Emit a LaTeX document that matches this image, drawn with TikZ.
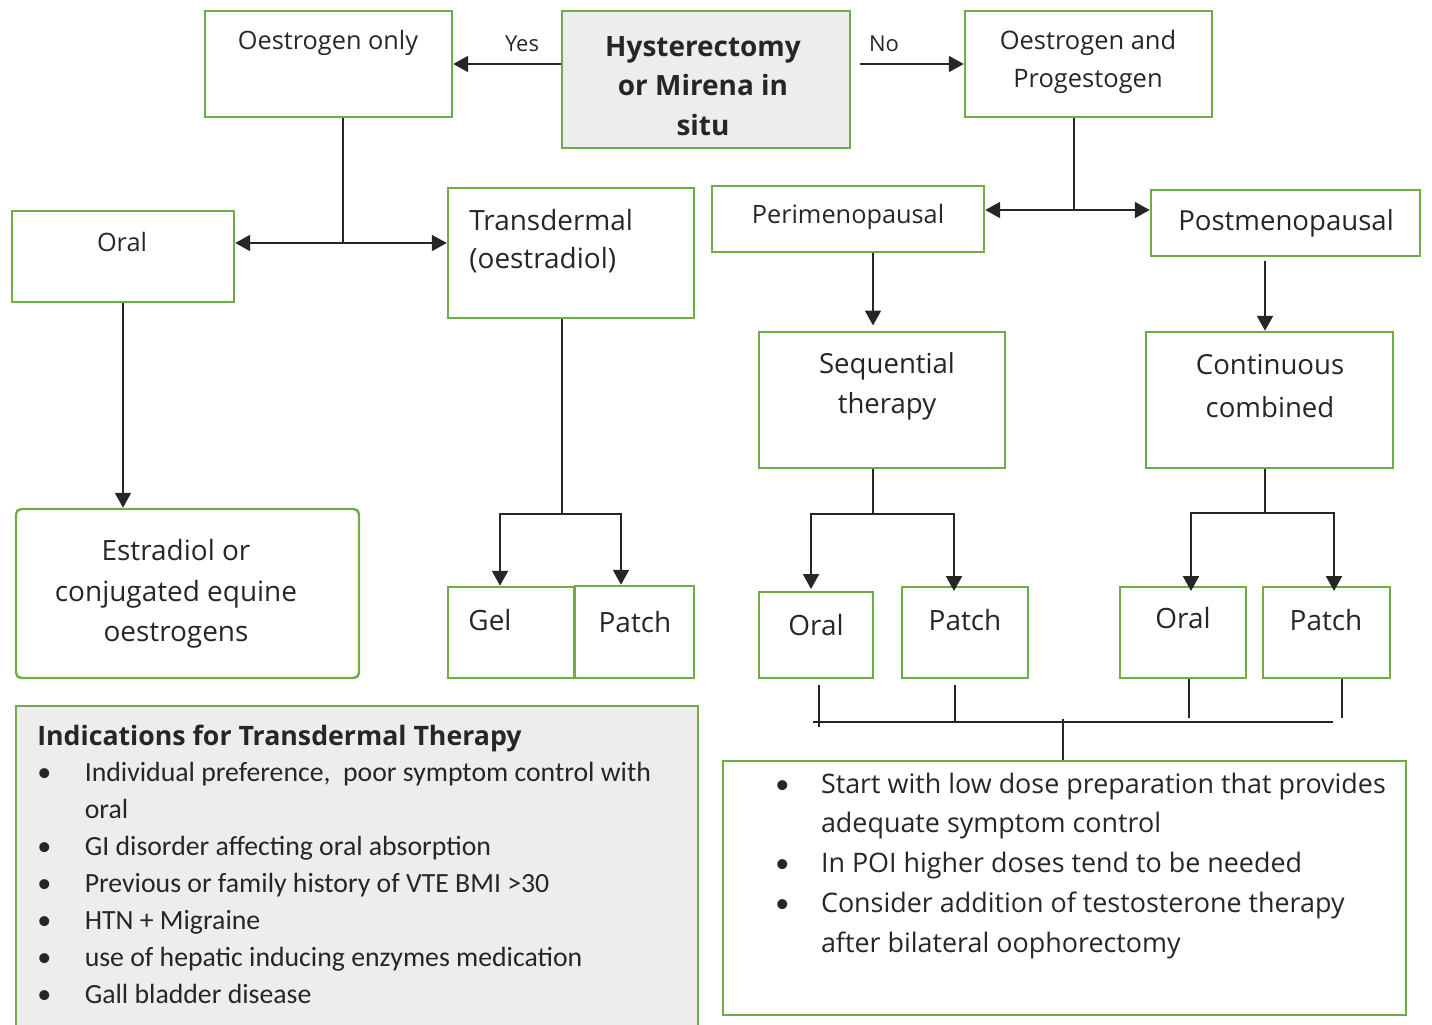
\documentclass[tikz,border=0pt]{standalone}
\usepackage{fontspec}
\setmainfont{Open Sans}
\newfontfamily\calfont{Carlito}
\newfontfamily\opensans{Open Sans}
\usetikzlibrary{arrows.meta,fit,positioning}
\definecolor{boxgreen}{HTML}{70AD47}
\definecolor{boxgray}{HTML}{EDEDED}
\definecolor{txt}{HTML}{262626}
\newcommand{\fs}[2]{\fontsize{#1}{#2}\selectfont}
\newcommand{\blt}{{\calfont\fs{16}{16}\textbullet}}
\tikzset{
  box/.style={draw=boxgreen, line width=1.4pt, inner sep=0pt},
  graybox/.style={box, fill=boxgray},
  lbl/.style={text=txt, inner sep=0pt, align=center},
  link/.style={line width=1.4pt, draw=txt, -{Triangle[length=8.5pt,width=9pt]}},
  twoway/.style={line width=1.4pt, draw=txt, {Triangle[length=8.5pt,width=9pt]}-{Triangle[length=8.5pt,width=9pt]}},
  plain/.style={line width=1.4pt, draw=txt},
  thinline/.style={line width=0.7pt, draw=txt},
}
\begin{document}
\begin{tikzpicture}[x=0.02cm,y=-0.02cm]
\useasboundingbox (0,0) rectangle (1432,1024);
% boxes
\node[box, fit={(205,11) (452,117)}] (oonly) {};
\node[graybox, fit={(562,11) (850,148)}] (hyst) {};
\node[box, fit={(965,11) (1212,117)}] (oandp) {};
\node[box, fit={(12,211) (234,302)}] (oral) {};
\node[box, fit={(448,188) (694,318)}] (trans) {};
\node[box, fit={(712,186) (984,252)}] (peri) {};
\node[box, fit={(1151,190) (1420,256)}] (post) {};
\node[box, fit={(759,332) (1005,468)}] (seq) {};
\node[box, fit={(1146,332) (1393,468)}] (cont) {};
\node[box, rounded corners=3pt, fit={(16,509) (359,678)}] (estr) {};
\node[box, fit={(448,587) (574,678)}] (gel) {};
\node[box, fit={(575,586) (694,678)}] (patchT) {};
\node[box, fit={(759,592) (873,678)}] (oralS) {};
\node[box, fit={(902,587) (1028,678)}] (patchS) {};
\node[box, fit={(1120,587) (1246,678)}] (oralC) {};
\node[box, fit={(1263,587) (1390,678)}] (patchC) {};
\node[box, fit={(723,761) (1406,1015)}] (notes) {};
\node[graybox, fit={(16,706) (698,1040)}] (ind) {};

% labels
\node[lbl, font=\fs{14.4}{21}] (toonly) at (328,43) {Oestrogen only};
\node[lbl, font=\bfseries\fs{15.9}{22.4}] (thyst) at (703,86) {Hysterectomy\\ or Mirena in\\ situ};
\node[lbl, font=\fs{14.5}{21.5}] (toandp) at (1088,62) {Oestrogen and\\Progestogen};
\node[lbl, font=\fs{12.5}{14}] (yes) at (522,44) {Yes};
\node[lbl, font=\fs{12.5}{14}] (no) at (884,44) {No};
\node[lbl, font=\fs{14.4}{20}] (toral) at (122,242) {Oral};
\node[lbl, align=left, anchor=west, font=\fs{15.9}{22}] (ttrans) at (469,241) {Transdermal\\(oestradiol)};
\node[lbl, font=\fs{14.4}{20}] (tperi) at (848,217) {Perimenopausal};
\node[lbl, font=\fs{15.7}{20}] (tpost) at (1286,223) {Postmenopausal};
\node[lbl, font=\fs{15.7}{22.7}] (tseq) at (887,386) {Sequential\\therapy};
\node[lbl, font=\fs{15.7}{24}] (tcont) at (1270,386) {Continuous\\combined};
\node[lbl, font=\fs{15.9}{23}] (testr) at (176,594) {Estradiol or\\conjugated equine\\oestrogens};
\node[lbl, font=\fs{15.9}{20}] (tgel) at (490,620) {Gel};
\node[lbl, font=\fs{15.9}{20}] (tpatchT) at (635,622) {Patch};
\node[lbl, font=\fs{15.9}{20}] (toralS) at (816,625) {Oral};
\node[lbl, font=\fs{15.9}{20}] (tpatchS) at (965,620) {Patch};
\node[lbl, font=\fs{15.9}{20}] (toralC) at (1183,618) {Oral};
\node[lbl, font=\fs{15.9}{20}] (tpatchC) at (1326,620) {Patch};

% lists
\node[lbl, align=left, anchor=base west] (tind) at (37,745) {%
  \calfont\fs{15.8}{21}%
  \begin{tabular}[t]{@{}p{27pt}@{}l@{}}
  \multicolumn{2}{@{}l@{}}{\opensans\bfseries\fs{15.2}{21}Indications for Transdermal Therapy}\\
  \blt & Individual preference,\ \ poor symptom control with\\
   & oral\\
  \blt & GI disorder affecting oral absorption\\
  \blt & Previous or family history of VTE BMI >30\\
  \blt & HTN + Migraine\\
  \blt & use of hepatic inducing enzymes medication\\
  \blt & Gall bladder disease
  \end{tabular}};
\node[lbl, align=left, anchor=base west] (tnotes) at (775,793) {%
  \fs{15.3}{22.7}%
  \begin{tabular}[t]{@{}p{26pt}@{}l@{}}
  \blt & Start with low dose preparation that provides\\
   & adequate symptom control\\
  \blt & In POI higher doses tend to be needed\\
  \blt & Consider addition of testosterone therapy\\
   & after bilateral oophorectomy
  \end{tabular}};

% connectors
\coordinate (nostart) at (860,64);
\coordinate (j1) at (343,243);
\coordinate (j2) at (562,514);
\coordinate (j3) at (1074,210);
\coordinate (j4) at (873,514);
\coordinate (j5) at (1265,513);
\draw[link] (hyst.west |- oonly.east) -- (oonly.east);
\draw[link] (nostart) -- (oandp.west |- nostart);
\draw[plain] (oonly.south -| j1) -- (j1);
\draw[twoway] (oral.east |- j1) -- (trans.west |- j1);
\draw[link] (oral.south) -- (estr.north -| oral.south);
\draw[plain] (trans.south -| j2) -- (j2);
\draw[link] (j2) -| (gel.north -| 500,0);
\draw[link] (j2) -| (patchT.north -| 621,0);
\draw[plain] (oandp.south -| j3) -- (j3);
\draw[twoway] (peri.east |- j3) -- (post.west |- j3);
\draw[link] (peri.south -| j4) -- ([yshift=3pt]seq.north -| j4);
\draw[link] (post.south -| j5) ++(0,4) -- (cont.north -| j5);
\draw[plain] (seq.south -| j4) -- (j4);
\draw[link] (j4) -| ([yshift=1pt]oralS.north -| 811,0);
\draw[link] (j4) -| ([yshift=-3pt]patchS.north -| 954,0);
\draw[plain] (cont.south -| j5) -- (j5);
\draw[link] (j5) -| ([yshift=-3pt]oralC.north -| 1191,0);
\draw[link] (j5) -| ([yshift=-3pt]patchC.north -| 1334,0);

% bus to notes
\coordinate (busL) at (813,722);
\coordinate (busR) at (1333,722);
\coordinate (busM) at (1063,719);
\coordinate (b1) at (819,727);
\coordinate (b2) at (955,722);
\coordinate (b3) at (1189,718);
\coordinate (b4) at (1342,718);
\draw[line width=1pt, draw=txt] (busL) -- (busR);
\draw[thinline, shorten <=6*0.02cm] (oralS.south -| b1) -- (b1);
\draw[thinline, shorten <=6*0.02cm] (patchS.south -| b2) -- (b2);
\draw[thinline] (oralC.south -| b3) -- (b3);
\draw[thinline] (patchC.south -| b4) -- (b4);
\draw[plain] (busM) -- (notes.north -| busM);
\end{tikzpicture}
\end{document}
